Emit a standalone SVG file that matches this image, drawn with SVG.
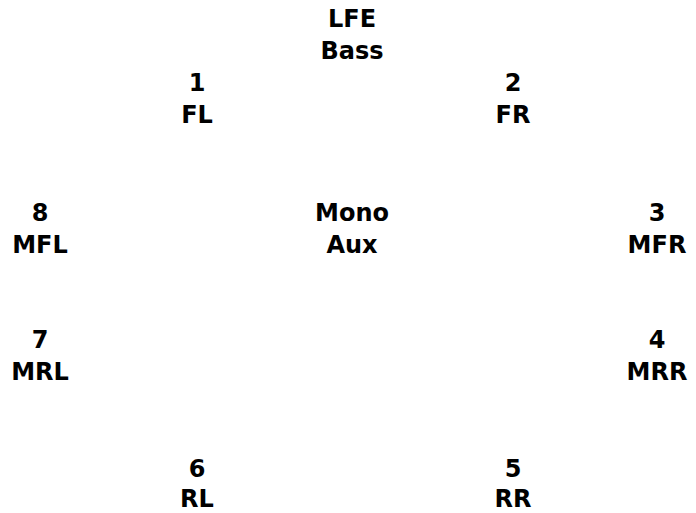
<svg xmlns="http://www.w3.org/2000/svg" width="696" height="513" viewBox="0 0 696 513">
<style>
text{font-family:"DejaVu Sans",Verdana,sans-serif;font-weight:bold;font-size:24px;fill:#000;text-anchor:middle}
</style>
<rect width="696" height="513" fill="#fff"/>
<g id="lfe"><text x="352" y="27">LFE</text><text x="352" y="59">Bass</text></g>
<g id="fl"><text x="197" y="91">1</text><text x="197" y="123">FL</text></g>
<g id="fr"><text x="513" y="91">2</text><text x="513" y="123">FR</text></g>
<g id="mfl"><text x="40" y="221">8</text><text x="40" y="253">MFL</text></g>
<g id="mono"><text x="352" y="221">Mono</text><text x="352" y="253">Aux</text></g>
<g id="mfr"><text x="657" y="221">3</text><text x="657" y="253">MFR</text></g>
<g id="mrl"><text x="40" y="348">7</text><text x="40" y="380">MRL</text></g>
<g id="mrr"><text x="657" y="348">4</text><text x="657" y="380">MRR</text></g>
<g id="rl"><text x="197" y="477">6</text><text x="197" y="507">RL</text></g>
<g id="rr"><text x="513" y="477">5</text><text x="513" y="507">RR</text></g>
<g id="connectors"></g>
</svg>
